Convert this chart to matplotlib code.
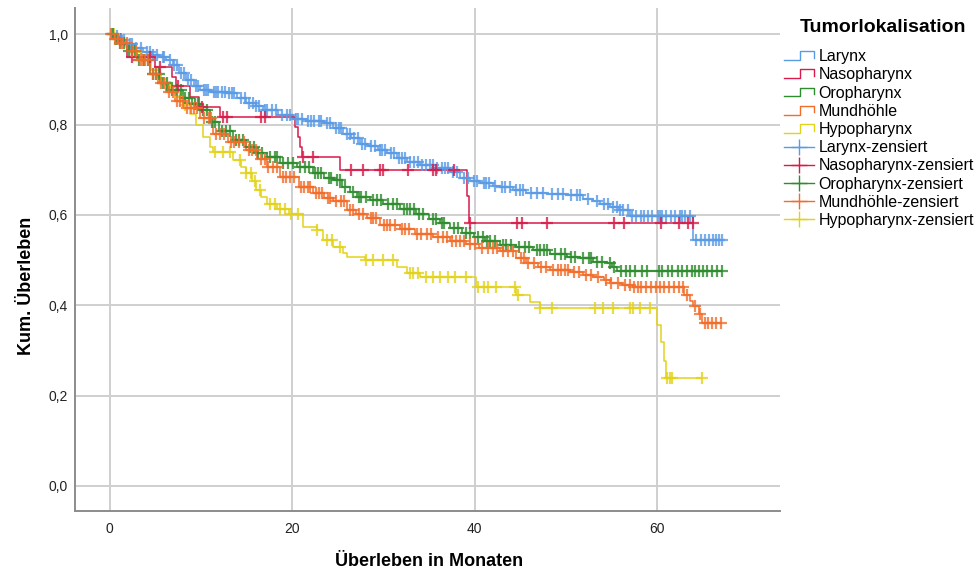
import numpy as np
import matplotlib
matplotlib.use("Agg")
import matplotlib.pyplot as plt
from matplotlib.lines import Line2D
from matplotlib.legend_handler import HandlerBase

plt.rcParams['font.family'] = ['Liberation Sans', 'DejaVu Sans']

# Kaplan-Meier Schätzer je Tumorlokalisation: Ereigniszeitpunkte (Monate) und Überlebensrate danach
larynx_t = [0, 0.5, 1.0, 1.8, 2.7, 3.7, 4.6, 5.5, 6.2, 6.9, 7.6, 8.4, 9.2, 9.9, 11.0, 12.8,
            14.0, 15.0, 16.0, 16.8, 18.5, 20.1, 21.5, 23.4, 24.5, 25.6, 26.5, 27.4, 28.3,
            29.4, 30.4, 31.5, 32.6, 34.0, 35.5, 37.3, 38.4, 39.5, 40.6, 42.0, 42.8, 44.2,
            45.7, 48.0, 50.1, 51.9, 53.0, 53.8, 54.9, 55.8, 57.0, 63.9]
larynx_s = [1.0, 0.995, 0.988, 0.979, 0.970, 0.961, 0.955, 0.950, 0.942, 0.931, 0.915, 0.898,
            0.886, 0.876, 0.872, 0.869, 0.858, 0.847, 0.840, 0.832, 0.822, 0.813, 0.808, 0.804,
            0.793, 0.780, 0.770, 0.758, 0.752, 0.744, 0.736, 0.727, 0.718, 0.710, 0.703, 0.695,
            0.681, 0.676, 0.670, 0.665, 0.662, 0.655, 0.648, 0.646, 0.644, 0.636, 0.630, 0.625,
            0.618, 0.610, 0.597, 0.545]
larynx_c = [0.3, 0.8, 1.2, 1.6, 2.2, 2.5, 2.9, 3.4, 4.1, 4.4, 4.8, 5.2, 5.8, 6.0, 6.6, 7.1,
            7.4, 7.8, 8.1, 8.6, 8.9, 9.5, 9.7, 10.3, 10.6, 10.8, 11.4, 11.7, 11.9, 12.3, 12.6,
            13.1, 13.4, 13.6, 14.4, 14.8, 15.3, 15.7, 16.1, 16.4, 17.0, 17.3, 17.8, 18.2, 18.9,
            19.4, 19.8, 20.4, 20.7, 21.1, 21.8, 22.1, 22.4, 22.9, 23.2, 23.8, 24.2, 24.8, 25.1,
            25.4, 26.0, 26.3, 26.8, 27.2, 27.7, 28.0, 28.6, 29.1, 29.6, 29.9, 30.2, 30.8, 31.2,
            31.7, 32.0, 32.4, 32.9, 33.4, 33.8, 34.2, 34.7, 35.1, 35.4, 35.9, 36.4, 36.8, 37.1,
            37.6, 38.1, 38.8, 39.3, 39.9, 40.3, 41.0, 41.3, 41.6, 42.2, 43.0, 43.3, 43.9, 44.6,
            45.0, 45.3, 46.2, 46.9, 47.5, 48.5, 49.2, 49.7, 50.6, 51.2, 51.6, 52.4, 53.4, 54.2,
            54.6, 55.2, 55.6, 56.0, 56.3, 56.8, 57.3, 57.7, 58.2, 58.6, 59.0, 59.5, 60.1, 60.3,
            60.6, 61.0, 61.5, 62.0, 62.5, 62.8, 63.1, 63.6, 64.3, 64.8, 65.3, 65.7, 66.2, 66.5,
            66.8, 67.1]

naso_t = [0, 1.3, 1.9, 5.0, 6.8, 7.3, 8.8, 9.8, 12.1, 20.3, 20.7, 20.9, 21.1, 25.3, 39.2, 39.4]
naso_s = [1.0, 0.978, 0.950, 0.928, 0.906, 0.885, 0.862, 0.839, 0.817, 0.795, 0.772, 0.750,
          0.728, 0.699, 0.641, 0.583]
naso_c = [2.4, 4.4, 5.5, 7.5, 10.1, 12.4, 12.9, 16.6, 17.0, 21.2, 22.3, 26.5, 27.8, 29.6,
          30.0, 32.7, 35.5, 35.8, 37.7, 39.5, 44.7, 45.2, 47.9, 55.3, 56.4, 60.5, 62.4, 63.4,
          63.9]

oro_t = [0, 0.5, 1.0, 2.0, 3.0, 4.4, 5.5, 6.5, 8.0, 9.0, 9.9, 11.0, 12.0, 13.5, 15.0, 16.0,
         17.2, 18.7, 20.5, 22.3, 23.5, 24.5, 25.5, 26.3, 27.1, 28.5, 30.0, 31.8, 33.6, 35.0,
         36.2, 37.3, 38.6, 39.9, 41.2, 42.8, 44.5, 46.4, 48.3, 50.1, 51.6, 53.0, 54.5, 55.1,
         55.6]
oro_s = [1.0, 0.990, 0.980, 0.962, 0.942, 0.913, 0.893, 0.876, 0.858, 0.845, 0.832, 0.805,
         0.785, 0.765, 0.751, 0.738, 0.729, 0.716, 0.706, 0.692, 0.682, 0.677, 0.662, 0.650,
         0.640, 0.632, 0.625, 0.614, 0.603, 0.592, 0.581, 0.570, 0.561, 0.552, 0.543, 0.533,
         0.528, 0.522, 0.514, 0.507, 0.504, 0.496, 0.493, 0.485, 0.476]
oro_c = [0.4, 0.7, 1.1, 1.6, 2.1, 2.4, 2.8, 3.2, 3.8, 4.2, 4.7, 5.1, 5.4, 5.9, 6.3, 6.8,
         7.4, 7.8, 8.3, 8.7, 9.4, 9.7, 10.2, 10.7, 11.2, 11.5, 12.3, 12.8, 13.2, 13.9, 14.2,
         14.6, 15.4, 15.8, 16.3, 16.7, 17.6, 18.1, 18.4, 19.0, 19.6, 20.1, 20.9, 21.4, 21.9,
         22.5, 22.8, 23.2, 24.0, 24.3, 24.9, 25.2, 25.8, 26.7, 27.3, 27.6, 28.1, 28.9, 29.3,
         29.7, 30.5, 31.1, 31.5, 32.3, 32.6, 32.9, 33.4, 33.9, 34.4, 35.4, 35.8, 36.4, 36.7,
         37.8, 38.2, 39.1, 39.5, 40.4, 40.9, 41.4, 41.7, 42.3, 43.1, 43.4, 44.0, 44.9, 45.5,
         46.0, 46.9, 47.2, 47.6, 48.0, 48.8, 49.5, 49.9, 50.6, 51.0, 51.9, 52.5, 52.8, 53.4,
         54.0, 54.8, 55.3, 56.1, 56.6, 57.1, 57.6, 58.4, 58.9, 60.2, 60.6, 61.2, 61.6, 62.3,
         62.8, 63.3, 63.8, 64.2, 64.6, 65.1, 65.5, 66.0, 66.6, 67.1]

mund_t = [0, 0.5, 1.0, 2.0, 3.0, 4.4, 5.3, 6.2, 7.2, 8.2, 9.9, 11.3, 13.0, 15.0, 16.2, 17.2,
          18.7, 20.8, 22.3, 23.5, 24.5, 26.0, 27.0, 28.2, 29.6, 31.8, 33.5, 35.5, 37.3, 39.1,
          40.5, 42.8, 44.5, 45.7, 47.0, 48.3, 50.5, 51.9, 53.0, 54.2, 54.9, 56.2, 57.4, 63.0,
          63.6, 64.0, 64.6, 64.9]
mund_s = [1.0, 0.990, 0.980, 0.962, 0.943, 0.912, 0.893, 0.872, 0.853, 0.836, 0.814, 0.780,
          0.762, 0.743, 0.723, 0.707, 0.684, 0.662, 0.648, 0.638, 0.630, 0.611, 0.603, 0.594,
          0.578, 0.568, 0.558, 0.550, 0.543, 0.535, 0.527, 0.520, 0.505, 0.493, 0.485, 0.478,
          0.473, 0.468, 0.463, 0.455, 0.450, 0.445, 0.441, 0.423, 0.410, 0.398, 0.380, 0.360]
mund_c = [0.2, 0.6, 0.9, 1.2, 1.5, 1.9, 2.5, 2.9, 3.3, 3.6, 3.9, 4.2, 4.8, 5.1, 5.6, 6.0,
          6.5, 7.0, 7.4, 7.7, 8.0, 8.5, 8.9, 9.2, 9.6, 10.4, 10.9, 11.1, 11.7, 12.1, 12.5,
          13.3, 13.6, 14.2, 14.7, 15.3, 15.6, 16.0, 16.6, 17.0, 17.4, 17.9, 18.4, 19.0, 19.3,
          19.8, 20.2, 21.0, 21.3, 21.7, 22.0, 22.6, 23.0, 23.3, 23.9, 24.2, 24.8, 25.4, 25.7,
          26.4, 26.7, 27.3, 27.8, 28.6, 28.9, 29.2, 30.1, 30.4, 30.7, 31.3, 32.1, 32.4, 32.8,
          33.7, 34.1, 34.8, 35.2, 36.0, 36.5, 37.0, 37.5, 38.0, 38.4, 38.9, 39.5, 40.0, 40.8,
          41.5, 42.0, 42.5, 43.1, 43.7, 44.2, 45.1, 45.4, 45.9, 46.5, 47.3, 47.8, 48.6, 49.1,
          49.5, 49.9, 50.3, 50.9, 51.5, 52.2, 52.8, 53.5, 54.4, 55.0, 55.7, 56.5, 57.0, 57.5,
          57.9, 58.3, 58.8, 59.4, 59.9, 60.3, 60.8, 61.3, 61.9, 62.4, 62.9, 63.3, 64.2, 64.7,
          65.3, 65.6, 66.0, 66.5, 67.0]

hypo_t = [0, 1.0, 1.8, 2.6, 3.5, 4.5, 5.5, 6.2, 7.3, 8.0, 8.8, 9.5, 10.2, 11.0, 11.3, 13.5,
          14.4, 15.0, 15.6, 16.1, 16.6, 17.2, 18.3, 19.7, 21.2, 22.7, 23.4, 24.5, 25.6, 26.0,
          28.0, 31.5, 32.6, 34.0, 40.2, 44.6, 46.1, 47.2, 60.0, 60.5, 60.8, 61.0]
hypo_s = [1.0, 0.985, 0.972, 0.960, 0.943, 0.920, 0.900, 0.883, 0.861, 0.843, 0.824, 0.800,
          0.773, 0.750, 0.740, 0.721, 0.706, 0.692, 0.675, 0.655, 0.640, 0.625, 0.614, 0.603,
          0.574, 0.566, 0.544, 0.530, 0.515, 0.507, 0.500, 0.485, 0.471, 0.463, 0.440, 0.423,
          0.408, 0.393, 0.356, 0.319, 0.277, 0.238]
hypo_c = [0.5, 2.9, 5.6, 6.6, 7.7, 8.3, 11.5, 12.4, 13.2, 14.3, 15.0, 15.5, 15.9, 16.5, 17.6,
          18.1, 18.7, 19.2, 19.9, 20.6, 22.7, 23.8, 24.4, 25.2, 28.1, 28.9, 30.0, 31.1, 32.9,
          33.3, 33.8, 34.7, 35.4, 36.2, 37.1, 37.9, 39.1, 40.4, 41.0, 41.5, 42.4, 44.4, 44.8,
          47.2, 48.5, 53.2, 54.1, 55.2, 57.0, 57.4, 58.1, 59.2, 61.1, 61.4, 61.6, 64.9]

gruppen = ['Larynx', 'Nasopharynx', 'Oropharynx', 'Mundhöhle', 'Hypopharynx']
farben = {'Larynx': '#5a9be6', 'Nasopharynx': '#d81b4a', 'Oropharynx': '#2e8b2e',
          'Mundhöhle': '#f26d2a', 'Hypopharynx': '#e3d21a'}
daten = {'Larynx': (larynx_t, larynx_s, larynx_c),
         'Nasopharynx': (naso_t, naso_s, naso_c),
         'Oropharynx': (oro_t, oro_s, oro_c),
         'Mundhöhle': (mund_t, mund_s, mund_c),
         'Hypopharynx': (hypo_t, hypo_s, hypo_c)}
zeichenfolge = ['Larynx', 'Hypopharynx', 'Oropharynx', 'Nasopharynx', 'Mundhöhle']


class StufenHandler(HandlerBase):
    # kleines Treppensymbol wie in SPSS-Legenden
    def create_artists(self, legend, orig_handle, xdescent, ydescent, width, height,
                       fontsize, trans):
        xs = np.array([0, 0.55, 0.55, 1.0, 1.0]) * width - xdescent
        ys = np.array([0.1, 0.1, 0.9, 0.9, 0.3]) * height - ydescent
        ln = Line2D(xs, ys, color=orig_handle.get_color(), lw=1.0)
        ln.set_transform(trans)
        return [ln]


fig = plt.figure(figsize=(9.8, 5.72), dpi=100)
ax = fig.add_axes([0.0765, 0.107, 0.7195, 0.879])

for name in zeichenfolge:
    t, s, c = daten[name]
    t = np.asarray(t)
    s = np.asarray(s)
    c = np.asarray(c)
    ende = max(t[-1], c.max())
    ax.step(np.append(t, ende), np.append(s, s[-1]), where='post',
            color=farben[name], lw=1.1, zorder=3)
    idx = np.searchsorted(t, c, side='right') - 1
    ax.plot(c, s[idx], ls='none', marker='+', ms=8, mew=1.6,
            color=farben[name], alpha=0.8, zorder=4)

ax.set_xlim(-3.8, 73.5)
ax.set_ylim(-0.055, 1.058)
ax.set_xticks([0, 20, 40, 60])
ax.set_yticks([0, 0.2, 0.4, 0.6, 0.8, 1.0])
ax.set_yticklabels(['0,0', '0,2', '0,4', '0,6', '0,8', '1,0'])
ax.tick_params(axis='both', length=0, labelsize=10, colors='#222222')
ax.tick_params(axis='x', pad=8)
ax.tick_params(axis='y', pad=5)
ax.grid(True, color='#cfcfcf', lw=1.4, zorder=0)
ax.set_axisbelow(True)
for side in ['top', 'right']:
    ax.spines[side].set_visible(False)
for side in ['left', 'bottom']:
    ax.spines[side].set_color('#8c8c8c')
    ax.spines[side].set_linewidth(1.4)

fig.text(0.027, 0.5, 'Kum. Überleben', rotation=90, ha='center', va='center',
         fontsize=13, fontweight='bold')
fig.text(0.438, 0.019, 'Überleben in Monaten', ha='center', va='center',
         fontsize=13, fontweight='bold')

# Legende: fünf Treppensymbole, dann fünf Zensierungssymbole
handles = []
labels = []
handler_map = {}
for name in gruppen:
    h = Line2D([], [], color=farben[name], lw=1.0)
    handles.append(h)
    labels.append(name)
    handler_map[h] = StufenHandler()
for name in gruppen:
    h = Line2D([], [], color=farben[name], lw=1.0, marker='+', ms=12, mew=1.0)
    handles.append(h)
    labels.append(name + '-zensiert')

fig.text(0.901, 0.952, 'Tumorlokalisation', ha='center', va='center',
         fontsize=14, fontweight='bold')
leg = fig.legend(handles, labels, handler_map=handler_map, loc='upper left',
                 bbox_to_anchor=(0.800, 0.914), frameon=False, fontsize=11.5,
                 handlelength=1.85, handletextpad=0.3, labelspacing=0.2,
                 borderaxespad=0, borderpad=0)

fig.savefig('out.png', dpi=100)
